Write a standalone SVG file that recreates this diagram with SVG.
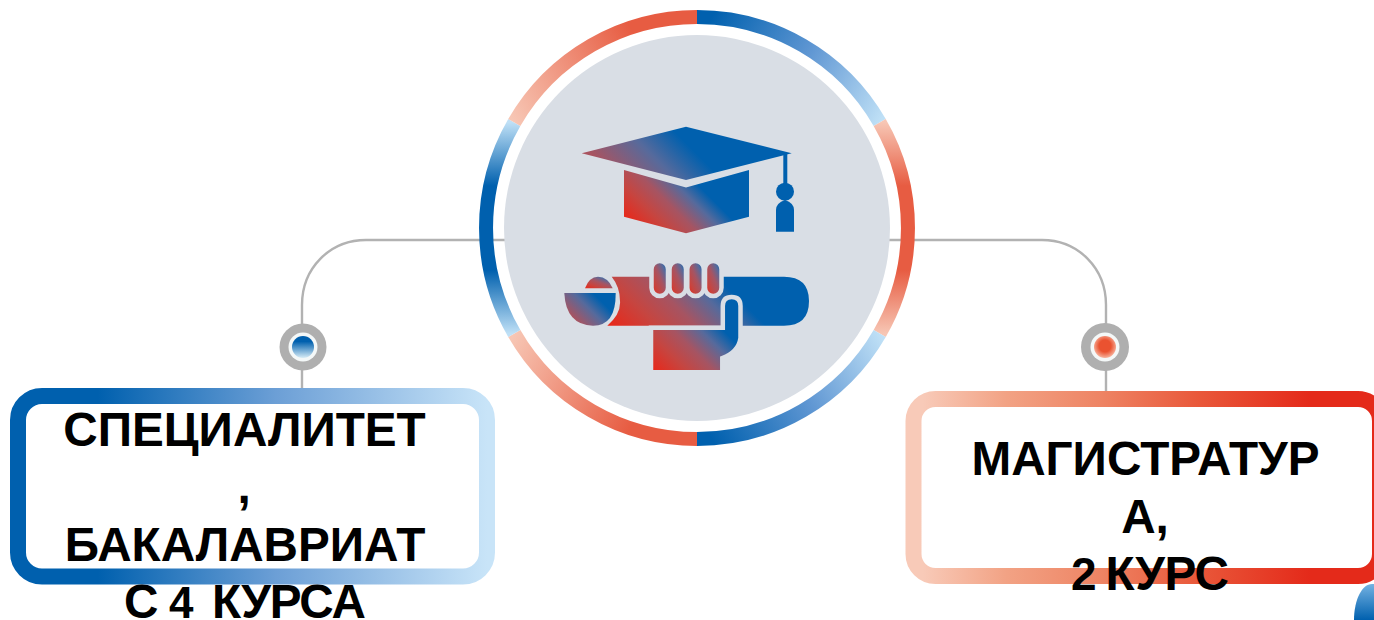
<svg xmlns="http://www.w3.org/2000/svg" width="1374" height="620" viewBox="0 0 1374 620">
<style>
.ring{fill:none;stroke-width:14}
.conn{fill:none;stroke:#b2b2b2;stroke-width:2.4}
.cut{stroke:#d9dee5;stroke-width:4.5}
.label{font-family:"Liberation Sans",Arial,sans-serif;font-weight:700;font-size:47.7px;fill:#000;text-anchor:middle}
.start{text-anchor:start}
.halo{fill:#afafaf}
.core{fill:#f4f8f8}
</style>
<defs>
<linearGradient id="rb"><stop offset="0" stop-color="#e8281a"/><stop offset="0.3" stop-color="#c64540"/><stop offset="0.55" stop-color="#a65462"/><stop offset="0.8" stop-color="#566a9c"/><stop offset="1" stop-color="#0060ae"/></linearGradient>
<linearGradient id="rTR" gradientUnits="userSpaceOnUse" x1="697" y1="17" x2="879.7" y2="122.5"><stop offset="0.06" stop-color="#0060ae"/><stop offset="0.55" stop-color="#6097d3"/><stop offset="1" stop-color="#bfe0f6"/></linearGradient>
<linearGradient id="rBR" gradientUnits="userSpaceOnUse" x1="697" y1="439" x2="879.7" y2="333.5"><stop offset="0.06" stop-color="#0060ae"/><stop offset="0.55" stop-color="#6097d3"/><stop offset="1" stop-color="#bfe0f6"/></linearGradient>
<linearGradient id="rTL" gradientUnits="userSpaceOnUse" x1="697" y1="17" x2="514.3" y2="122.5"><stop offset="0.3" stop-color="#e75c42"/><stop offset="1" stop-color="#f7c6b4"/></linearGradient>
<linearGradient id="rBL" gradientUnits="userSpaceOnUse" x1="697" y1="439" x2="514.3" y2="333.5"><stop offset="0.3" stop-color="#e75c42"/><stop offset="1" stop-color="#f7c6b4"/></linearGradient>
<linearGradient id="rL" gradientUnits="userSpaceOnUse" x1="0" y1="122.5" x2="0" y2="333.5"><stop offset="0" stop-color="#bfe0f6"/><stop offset="0.3" stop-color="#0060ae"/><stop offset="0.7" stop-color="#0060ae"/><stop offset="1" stop-color="#bfe0f6"/></linearGradient>
<linearGradient id="rR" gradientUnits="userSpaceOnUse" x1="0" y1="122.5" x2="0" y2="333.5"><stop offset="0" stop-color="#f7c6b4"/><stop offset="0.3" stop-color="#e75c42"/><stop offset="0.7" stop-color="#e75c42"/><stop offset="1" stop-color="#f7c6b4"/></linearGradient>
<linearGradient id="board" href="#rb" gradientUnits="userSpaceOnUse" x1="600" y1="287" x2="715" y2="172"/>
<linearGradient id="base" href="#rb" gradientUnits="userSpaceOnUse" x1="624" y1="217" x2="677" y2="164"/>
<linearGradient id="tube" href="#rb" gradientUnits="userSpaceOnUse" x1="610" y1="325" x2="687.5" y2="247.5"/>
<linearGradient id="hand" href="#rb" gradientUnits="userSpaceOnUse" x1="653" y1="370" x2="708" y2="315"/>
<linearGradient id="finger" href="#rb" x1="0" y1="1" x2="1" y2="0.1"/>
<linearGradient id="cap" href="#rb" x1="0" y1="1" x2="0.9" y2="0"/>
<linearGradient id="lens" href="#rb" gradientUnits="userSpaceOnUse" x1="555" y1="352" x2="603.5" y2="303.5"/>
<linearGradient id="boxL" x1="0" y1="0" x2="1" y2="0"><stop offset="0.17" stop-color="#0060ae"/><stop offset="0.55" stop-color="#6c9fd6"/><stop offset="1" stop-color="#c8e4f8"/></linearGradient>
<linearGradient id="boxR" x1="0" y1="0" x2="1" y2="0"><stop offset="0.02" stop-color="#f8cab8"/><stop offset="0.2" stop-color="#f2a284"/><stop offset="0.4" stop-color="#ee8464"/><stop offset="0.61" stop-color="#e9583a"/><stop offset="0.85" stop-color="#e42a1a"/></linearGradient>
<linearGradient id="dotB" x1="0" y1="0" x2="0" y2="1"><stop offset="0.25" stop-color="#0060ae"/><stop offset="1" stop-color="#d8ecf6"/></linearGradient>
<radialGradient id="dotR" cx="0.5" cy="0.45" r="0.6"><stop offset="0.45" stop-color="#ea5230"/><stop offset="1" stop-color="#f9c5b2"/></radialGradient>
<linearGradient id="corner" x1="0" y1="0" x2="0" y2="1"><stop offset="0" stop-color="#74b2e2"/><stop offset="1" stop-color="#0060ae"/></linearGradient>
</defs>

<g id="connectors">
<path class="conn" d="M510 240H366C330 240 302 268 302 305V390"/>
<path class="conn" d="M885 240H1042C1078 240 1106 268 1106 305V393"/>
</g>

<g id="center-node">
<circle cx="697" cy="228" r="193" fill="#d9dee5"/>
<g id="ring">
<path class="ring" stroke="url(#rTR)" d="M697 17A211 211 0 0 1 879.7 122.5"/>
<path class="ring" stroke="url(#rR)" d="M879.7 122.5A211 211 0 0 1 879.7 333.5"/>
<path class="ring" stroke="url(#rBR)" d="M879.7 333.5A211 211 0 0 1 697 439"/>
<path class="ring" stroke="url(#rBL)" d="M697 439A211 211 0 0 1 514.3 333.5"/>
<path class="ring" stroke="url(#rL)" d="M514.3 333.5A211 211 0 0 1 514.3 122.5"/>
<path class="ring" stroke="url(#rTL)" d="M514.3 122.5A211 211 0 0 1 697 17"/>
</g>
<g id="cap-icon">
<path fill="url(#board)" d="M581.7 153.3L686 126.7L791.7 153.3L686 180Z"/>
<path fill="url(#base)" d="M624 170L686 187.5L749 170V216.7L686 233.3L624 216.7Z"/>
<path fill="#0060ae" d="M783.3 153H787.3V184H783.3Z"/>
<circle cx="785" cy="191.7" r="9" fill="#0060ae"/>
<path fill="#0060ae" d="M776 231.7V210Q776 203 785 200Q794 203 794 210V231.7Z"/>
</g>
<g id="diploma-icon">
<path fill="url(#tube)" d="M611.7 276.7H784Q809 276.7 809 301Q809 325.7 784 325.7H607.3Q621 314 620 301Q620 287 611.7 276.7Z"/>
<path fill="url(#cap)" d="M585 288.3Q589 277 598 276.7Q608 277 612.7 288.3Z"/>
<path fill="url(#lens)" d="M564.3 293H615.7Q616 325.7 593 325.7Q566 325 564.3 293Z"/>
<path class="cut" fill="url(#hand)" d="M651 327.7H722.8V306Q722.8 297 731.7 297Q740.5 297 740.5 306V338Q738.5 352 722.3 358V372.3H651Z"/>
<rect x="652" y="270" width="68" height="22" fill="#d9dee5"/>
<g id="fingers" class="cut" fill="url(#finger)">
<rect x="651.5" y="261" width="16.5" height="35" rx="8.2"/>
<rect x="669.5" y="261" width="16.5" height="35" rx="8.2"/>
<rect x="687.3" y="261" width="16.5" height="35" rx="8.2"/>
<rect x="705" y="261" width="16.5" height="35" rx="8.2"/>
</g>
</g>
</g>

<g id="dot-left">
<circle class="halo" cx="303" cy="347" r="23.5"/>
<circle class="core" cx="303" cy="347" r="14.5"/>
<circle cx="303" cy="347" r="11" fill="url(#dotB)"/>
</g>
<g id="dot-right">
<circle class="halo" cx="1105" cy="347" r="24"/>
<circle class="core" cx="1105" cy="347" r="14.5"/>
<circle cx="1105" cy="347" r="11" fill="url(#dotR)"/>
</g>

<g id="node-left">
<rect x="18" y="396" width="469" height="180.5" rx="24" fill="#fff" stroke="url(#boxL)" stroke-width="16"/>
<text class="label" x="244.5" y="446">СПЕЦИАЛИТЕТ</text>
<text class="label" x="244" y="503">,</text>
<text class="label" x="245" y="561">БАКАЛАВРИАТ</text>
<text class="label start" x="124" y="618">С <tspan x="169" font-size="44">4</tspan> <tspan x="212" letter-spacing="-1.1">КУРСА</tspan></text>
</g>

<g id="node-right">
<rect x="913.5" y="399" width="466.5" height="177" rx="22" fill="#fff" stroke="url(#boxR)" stroke-width="16"/>
<text class="label" x="1145.5" y="475">МАГИСТРАТУР</text>
<text class="label" x="1145" y="532.5">А,</text>
<text class="label start" x="1071" y="590"><tspan font-size="46">2</tspan> <tspan x="1105.5" letter-spacing="-0.5">КУРС</tspan></text>
</g>

<path id="corner-shape" fill="url(#corner)" d="M1354 620C1354 600 1362 584 1372 584H1374V620Z"/>
</svg>
